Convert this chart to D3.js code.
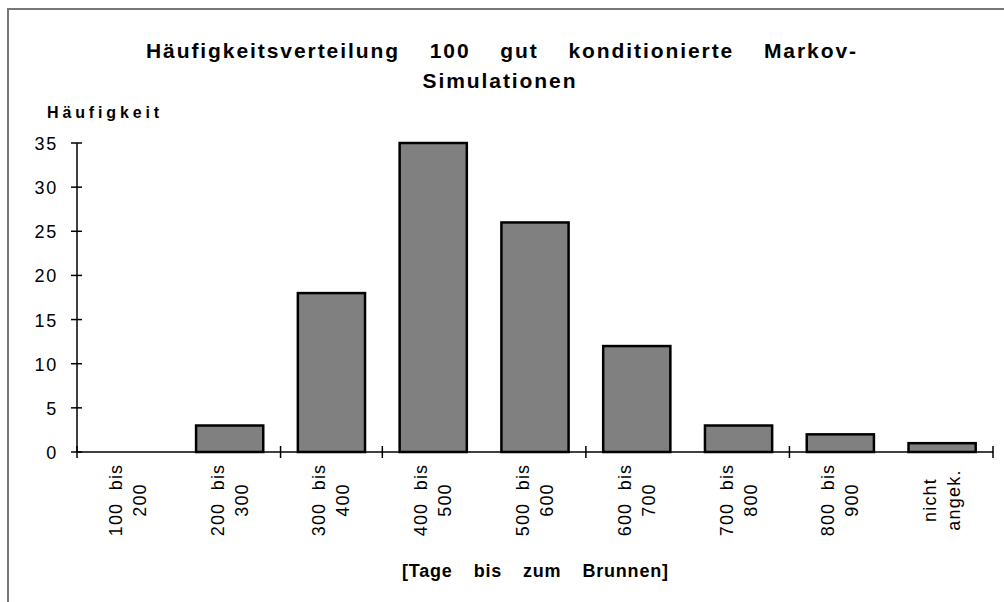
<!DOCTYPE html>
<html>
<head>
<meta charset="utf-8">
<title>Häufigkeitsverteilung</title>
<script src="https://d3js.org/d3.v7.min.js"></script>
<style>
  body { margin: 0; background: #fff; }
  text { font-family: "Liberation Sans", Arial, sans-serif; fill: #000; white-space: pre; }
</style>
</head>
<body>
<div id="chart"></div>
<script>
// data
const lines1 = ["100  bis", "200  bis", "300  bis", "400  bis", "500  bis", "600  bis", "700  bis", "800  bis", "nicht"];
const lines2 = ["200", "300", "400", "500", "600", "700", "800", "900", "angek."];
const counts = [0, 3, 18, 35, 26, 12, 3, 2, 1];
const yTicks = [0, 5, 10, 15, 20, 25, 30, 35];
const tickAt = [0, 2, 3, 5, 7, 9]; // boundaries that show a tick mark

const W = 1004, H = 602;
const plot = {left: 77, right: 993, top: 143, bottom: 452};

const svg = d3.select("#chart").append("svg")
  .attr("width", W).attr("height", H);

// frame
svg.append("path")
  .attr("d", "M8,602 V9 H1004")
  .attr("fill", "none").attr("stroke", "#777").attr("stroke-width", 2);

const x = d3.scaleBand().domain(d3.range(counts.length)).range([plot.left, plot.right]).padding(0);
const y = d3.scaleLinear().domain([0, 35]).range([plot.bottom, plot.top]);

// place words between x0 and x1 with even gaps (Excel-style justified line)
function justify(words, x0, x1, yy, size, ls) {
  const els = words.map(w => {
    const t = svg.append("text").attr("y", yy)
      .style("font-size", size + "px").style("font-weight", "bold").text(w);
    const n = t.node().getComputedTextLength();
    const len = n + ls * (w.length - 1);
    if (ls) t.attr("textLength", len).attr("lengthAdjust", "spacing");
    return {t, len};
  });
  const total = d3.sum(els, e => e.len);
  const gap = (x1 - x0 - total) / (els.length - 1);
  let cx = x0;
  els.forEach(e => { e.t.attr("x", cx); cx += e.len + gap; });
}

// letter spacing so that the first title word fills its width
const probe = svg.append("text").style("font-size", "21px").style("font-weight", "bold")
  .text("Häufigkeitsverteilung");
const titleLs = Math.max(0.4, (252 - probe.node().getComputedTextLength()) / 20);
probe.remove();

justify(["Häufigkeitsverteilung", "100", "gut", "konditionierte", "Markov-"], 146, 856, 58, 21, titleLs);

const sub = svg.append("text").attr("y", 88)
  .style("font-size", "21px").style("font-weight", "bold").text("Simulationen");
const subLen = sub.node().getComputedTextLength() + titleLs * 11;
sub.attr("x", 499 - subLen / 2).attr("textLength", subLen).attr("lengthAdjust", "spacing");

// y label
svg.append("text")
  .attr("x", 47).attr("y", 118)
  .attr("textLength", 112).attr("lengthAdjust", "spacing")
  .style("font-size", "16px").style("font-weight", "bold")
  .text("Häufigkeit");

// bars
svg.selectAll("rect.bar")
  .data(counts)
  .enter().append("rect")
  .attr("class", "bar")
  .attr("x", (d, i) => x(i) + x.bandwidth() * 0.17)
  .attr("width", x.bandwidth() * 0.66)
  .attr("y", d => y(d))
  .attr("height", d => y(0) - y(d))
  .attr("fill", "#808080")
  .attr("stroke", "#000").attr("stroke-width", 2.5)
  .style("display", d => d > 0 ? null : "none");

// y axis
const yAxis = svg.append("g");
yAxis.append("line")
  .attr("x1", plot.left).attr("x2", plot.left).attr("y1", y(35)).attr("y2", y(0))
  .attr("stroke", "#000").attr("stroke-width", 1.5);
yAxis.selectAll("line.t").data(yTicks).enter().append("line")
  .attr("x1", plot.left - 6).attr("x2", plot.left + 5)
  .attr("y1", d => y(d)).attr("y2", d => y(d))
  .attr("stroke", "#000").attr("stroke-width", 1.5);
yAxis.selectAll("text").data(yTicks).enter().append("text")
  .attr("x", 58).attr("y", d => y(d) + 7)
  .attr("text-anchor", "end")
  .style("font-size", "18px").style("letter-spacing", "1.8px")
  .text(d => d);

// x axis
svg.append("line")
  .attr("x1", plot.left).attr("x2", plot.right).attr("y1", y(0)).attr("y2", y(0))
  .attr("stroke", "#000").attr("stroke-width", 1.5);
svg.selectAll("line.xt").data(tickAt).enter().append("line")
  .attr("x1", d => plot.left + d * x.bandwidth()).attr("x2", d => plot.left + d * x.bandwidth())
  .attr("y1", y(0) - 6).attr("y2", y(0) + 6)
  .attr("stroke", "#000").attr("stroke-width", 1.5);

const xl = svg.selectAll("g.xl").data(counts).enter().append("g")
  .attr("transform", (d, i) => `translate(${x(i) + x.bandwidth() / 2},500) rotate(-90)`);
xl.append("text")
  .attr("x", 0).attr("y", -6).attr("text-anchor", "middle")
  .style("font-size", "18px").style("letter-spacing", "1.2px")
  .text((d, i) => lines1[i]);
xl.append("text")
  .attr("x", 0).attr("y", 18).attr("text-anchor", "middle")
  .style("font-size", "18px").style("letter-spacing", "1.2px")
  .text((d, i) => lines2[i]);

// x title
justify(["[Tage", "bis", "zum", "Brunnen]"], 402, 668, 577, 18, 0.8);
</script>
</body>
</html>
